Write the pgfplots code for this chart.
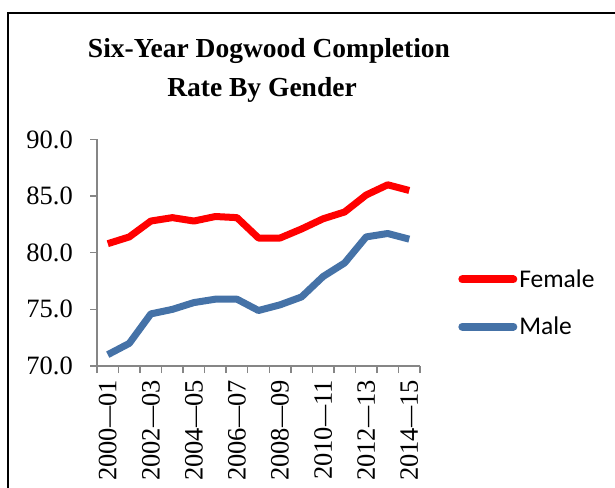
\documentclass[border=0pt]{standalone}
\usepackage{pgfplots}
\pgfplotsset{compat=1.18}
\usepackage{fontspec}
\setmainfont{Liberation Serif}
\newfontfamily\carlito{Carlito}
\definecolor{fem}{HTML}{FF0000}
\definecolor{mal}{HTML}{4572A7}
\definecolor{axgray}{HTML}{868686}
\pgfplotstableread{
x female male
0.5 80.8 71.0
1.5 81.4 72.0
2.5 82.8 74.6
3.5 83.1 75.0
4.5 82.8 75.6
5.5 83.2 75.9
6.5 83.1 75.9
7.5 81.3 74.9
8.5 81.3 75.4
9.5 82.1 76.1
10.5 83.0 77.9
11.5 83.6 79.1
12.5 85.1 81.4
13.5 86.0 81.7
14.5 85.5 81.2
}\data
\begin{document}
\begin{tikzpicture}[x=1pt,y=1pt]
\path[use as bounding box] (0,0) rectangle (615,487);
\draw[line width=2.5pt] (8,-5) -- (8,474) -- (620,474);
\node[font=\bfseries\fontsize{27.5}{27.5}\selectfont, anchor=base, inner sep=0pt] at (269,429) {Six-Year Dogwood Completion};
\node[font=\bfseries\fontsize{27.5}{27.5}\selectfont, anchor=base, inner sep=0pt] at (262,390) {Rate By Gender};
\begin{axis}[
  at={(97pt,121pt)}, anchor=south west,
  scale only axis, width=323pt, height=226.5pt,
  xmin=0, xmax=15, ymin=70, ymax=90,
  axis lines=left,
  axis line style={-, draw=axgray, line width=1.5pt},
  tick align=outside,
  major tick length=7pt,
  tick style={draw=axgray, line width=1.5pt},
  ytick={70,75,80,85,90},
  yticklabels={70.0,75.0,80.0,85.0,90.0},
  xtick={0,1,...,15},
  xticklabels={},
  extra x ticks={0.5,2.5,4.5,6.5,8.5,10.5,12.5,14.5},
  extra x tick labels={2000\scalebox{0.8}[1]{—}01,2002\scalebox{0.8}[1]{—}03,2004\scalebox{0.8}[1]{—}05,2006\scalebox{0.8}[1]{—}07,2008\scalebox{0.8}[1]{—}09,2010\scalebox{0.8}[1]{—}11,2012\scalebox{0.8}[1]{—}13,2014\scalebox{0.8}[1]{—}15},
  extra x tick style={major tick length=0pt, xticklabel style={rotate=90, anchor=east, inner sep=0pt, xshift=-14pt}},
  /pgf/number format/assume math mode=true,
  ticklabel style={font=\fontsize{26.5}{26.5}\selectfont},
  yticklabel style={inner sep=0pt, xshift=-17pt},
  clip=false,
  legend entries={Female, Male},
  legend cell align=left,
  legend style={at={(1.118,0.278)}, anchor=west, draw=none, fill=none, inner sep=0pt,
    font=\carlito\fontsize{25.5}{25.5}\selectfont, row sep=24pt, nodes={inner sep=2pt}},
  legend image code/.code={\draw[#1, line width=8pt, line cap=round] (3pt,0pt) -- (54pt,0pt);},
]
\addplot[fem, line width=7pt, line join=round] table[x=x, y=female] {\data};
\addplot[mal, line width=7pt, line join=round] table[x=x, y=male] {\data};
\end{axis}
\end{tikzpicture}
\end{document}
